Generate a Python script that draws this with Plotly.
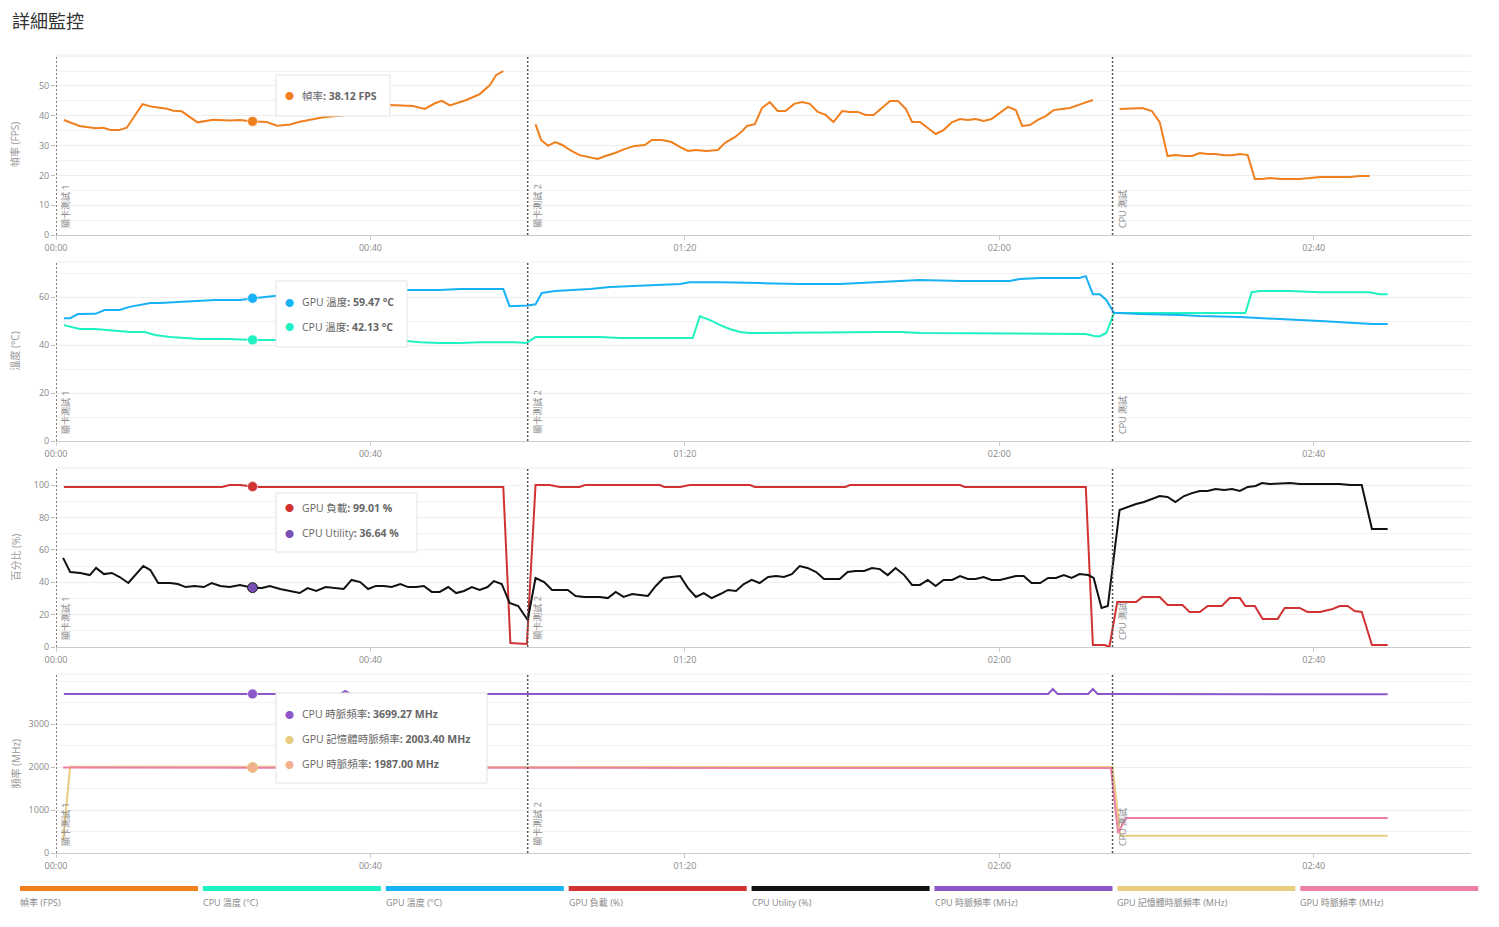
import plotly.graph_objects as go
from plotly.subplots import make_subplots

W, H = 1499, 927
ML, MR = 56, 28


def px_x(px):
    return (px - ML) / (W - ML - MR)


def px_y(py):
    return 1 - py / H


FONT = "Open Sans, Noto Sans CJK TC, sans-serif"

# ---------------- data (time in seconds) ----------------
TICK_SEC = [0, 40, 80, 120, 160]
TICK_LABELS = ["00:00", "00:40", "01:20", "02:00", "02:40"]

SECTION_T = [0, 60, 134.4]
SECTION_LABELS = ["顯卡測試 1", "顯卡測試 2", "CPU 測試"]

HOVER_T = 25

fps_t = [1, 3, 5, 6, 7, 8, 9, 11, 12.3, 14.1, 14.9, 16, 18, 20, 22.1, 23.4, 25, 26.8, 28.1, 29.8, 31, 34, 37,
         39.3, 42.5, 45.4, 46.9, 48.2, 49.1, 50.1, 52.2, 53.9, 55.2, 56, 56.9,
         59,
         61, 61.7, 62.6, 63.5, 64.4, 65.4, 66.6, 67.9, 68.9, 69.9, 71.1, 72.4, 73.6, 74.9, 75.8, 77.1, 78.3, 79.4,
         80.4, 81.4, 82.7, 84.2, 85.1, 86.4, 87.3, 87.9, 88.9, 89.8, 90.8, 91.8, 92.8, 93.9, 94.9, 95.9, 96.9,
         97.9, 98.9, 100, 101, 102, 103, 104, 105.1, 106.1, 107.1, 108.1, 108.9, 109.9, 110.9, 111.9, 112.9, 114,
         115, 116, 117, 118, 119, 120.1, 121.1, 122.1, 122.9, 123.9, 124.9, 125.9, 126.9, 128, 129, 130, 131, 131.9,
         133.5,
         135.3, 136.6, 138.2, 139.4, 140.4, 141.4, 142.4, 143.5, 144.5, 145.5, 146.5, 147.5, 148.6, 149.6, 150.6,
         151.6, 152.5, 153.4, 154.4, 155.7, 157, 158.2, 159.5, 160.8, 162, 163.3, 164.6, 165.8, 167.1]
fps_v = [38.6, 36.6, 35.8, 36.0, 35.2, 35.2, 36.0, 43.9, 43.0, 42.4, 41.7, 41.5, 37.8, 38.7, 38.4, 38.6, 38.12,
         37.9, 36.7, 37.1, 38.0, 39.5, 40.3, 41.5, 43.6, 43.3, 42.3, 44.2, 45.0, 43.5, 45.3, 47.3, 50.3, 53.7, 55.0,
         None,
         37.2, 31.9, 29.9, 31.2, 30.2, 28.5, 26.8, 26.2, 25.5, 26.5, 27.5, 28.9, 29.9, 30.2, 31.9, 31.9, 31.2, 29.5,
         28.2, 28.5, 28.2, 28.5, 30.9, 32.9, 34.9, 36.6, 37.2, 42.6, 44.6, 41.6, 41.6, 44.0, 44.6, 44.0, 41.3,
         40.3, 37.9, 41.6, 41.3, 41.3, 40.3, 40.3, 42.6, 45.0, 45.0, 42.3, 37.9, 37.9, 35.9, 33.9, 35.2, 37.9,
         38.9, 38.6, 38.9, 38.3, 38.9, 40.9, 43.0, 41.9, 36.6, 36.9, 38.6, 39.9, 41.9, 42.3, 42.6, 43.6, 44.6, 45.3,
         None,
         42.3, 42.4, 42.6, 41.6, 37.9, 26.5, 26.8, 26.5, 26.5, 27.5, 27.2, 27.2, 26.8, 26.8, 27.2,
         26.8, 18.8, 18.8, 19.1, 18.8, 18.8, 18.8, 19.1, 19.5, 19.5, 19.5, 19.5, 19.8, 19.8]

gpu_temp_t = [1, 1.8, 2.8, 5, 6.2, 8.1, 9.2, 10.7, 12, 13.2, 15.1, 18.3, 20.2, 23.4, 25, 28, 32, 38, 44.6, 48.8,
              51.4, 56.9, 57.7, 59, 60, 61, 61.8, 63.5, 65.4, 67.9, 70.5, 73, 75.5, 79.4, 80.6, 84.5, 89.5, 94.6,
              99.7, 102.3, 104.8, 107.3, 109.9, 115, 121.3, 122.6, 125.2, 130.2, 131, 131.9, 132.8, 133.6, 134.6,
              135.3, 137.9, 143, 145.5, 150.6, 153.1, 155.7, 158.2, 160.8, 163.3, 165.8, 167.4, 169.4]
gpu_temp_v = [51.2, 51.2, 52.9, 53.0, 54.6, 54.6, 55.8, 56.7, 57.5, 57.5, 57.9, 58.3, 58.8, 58.8, 59.47, 60.5, 61.8,
              62.5, 62.9, 62.9, 63.3, 63.3, 56.2, 56.2, 56.5, 57.0, 61.7, 62.5, 62.9, 63.3, 64.2, 64.6, 65.0, 65.4,
              66.2, 66.2, 65.8, 65.4, 65.4, 65.8, 66.2, 66.7, 67.1, 66.7, 66.7, 67.5, 67.9, 67.9, 68.7, 61.2, 61.2,
              58.8, 53.3, 53.3, 52.9, 52.5, 52.1, 51.7, 51.2, 50.8, 50.4, 50.0, 49.6, 49.2, 48.8, 48.8]

cpu_temp_t = [1, 2, 3, 5, 7, 8, 9.4, 11.3, 12.6, 14.5, 16.4, 18.3, 22.1, 25, 28, 36, 44.6, 46.3, 48.8, 51.4, 53.9,
              56.5, 58.4, 59.7, 60, 61, 64.1, 69.2, 71.7, 81, 81.9, 83.2, 84.5, 85.7, 87, 88.3, 105, 107.5, 110,
              131, 132.2, 132.8, 133.6, 134.6, 135.3, 151.3, 152.1, 153.1, 157, 160.8, 167.1, 168.4, 169.4]
cpu_temp_v = [48.3, 47.5, 46.7, 46.7, 46.2, 45.8, 45.4, 45.4, 44.2, 43.3, 42.9, 42.5, 42.5, 42.13, 42.1, 42.0, 41.7,
              41.2, 40.8, 40.8, 41.2, 41.2, 41.2, 40.8, 41.2, 43.3, 43.3, 43.3, 42.9, 42.9, 52.0, 50.4, 48.3, 46.7,
              45.4, 45.0, 45.4, 45.4, 45.0, 44.6, 43.7, 43.7, 45.0, 53.3, 53.3, 53.3, 62.0, 62.5, 62.5, 62.0, 62.0,
              61.2, 61.2]

gpu_load_t = [1, 21.1, 22.1, 23.4, 25, 26, 56.9, 57.8, 59.9, 61, 62.8, 64.1, 66.6, 67.3, 76.8, 77.4, 79.4, 80.6,
              88.3, 88.9, 100.4, 101, 115, 115.6, 131, 131.9, 133.4, 134, 135, 137.4, 138.2, 140.4, 141.4, 143.3,
              144.2, 145.5, 146.5, 148.3, 149.3, 150.6, 151.3, 152.5, 153.5, 155.4, 156.3, 158.2, 159.2, 160.8,
              162.4, 163.3, 164.3, 165.2, 166.1, 167.4, 169.4]
gpu_load_v = [98.8, 98.8, 100, 100, 99.01, 98.8, 98.8, 2.5, 1.9, 100, 100, 98.8, 98.8, 100, 100, 98.8, 98.8, 100,
              100, 98.8, 98.8, 100, 100, 98.8, 98.8, 1.2, 1.2, 0.0, 27.8, 27.8, 30.9, 30.9, 25.9, 25.9,
              21.6, 21.6, 25.3, 25.3, 30.2, 30.2, 25.3, 25.3, 17.3, 17.3, 24.1, 24.1, 21.6, 21.6,
              23.5, 25.3, 25.3, 22.2, 21.6, 1.2, 1.2]

cpu_util_t = [0.9, 1.8, 3.1, 4.3, 5.1, 6.1, 7.1, 8.1, 9.2, 10, 11.1, 12, 13, 14.5, 15.5, 16.5, 17.6, 18.8, 19.8, 20.9,
              22.1, 23.4, 25, 26.2, 27.2, 28.5, 29.8, 31, 32, 33.1, 34.3, 35.6, 36.6, 37.6, 38.7, 39.7, 40.7, 41.7,
              42.7, 43.8, 44.8, 45.8, 46.8, 47.8, 48.8, 49.9, 50.9, 51.9, 52.9, 53.9, 54.9, 55.7, 56.7, 57.7, 58.8,
              60, 61, 62.1, 63.1, 65.1, 66.1, 67.2, 69.2, 70.2, 71.2, 72.2, 73.3, 74.3, 75.3, 76.3, 77.3, 78.3, 79.4,
              80.4, 81.4, 82.4, 83.4, 84.5, 85.5, 86.5, 87.5, 88.5, 89.5, 90.6, 91.6, 92.6, 93.6, 94.6, 95.6, 96.7,
              97.7, 99.7, 100.7, 101.7, 102.8, 103.8, 104.8, 105.8, 106.8, 107.9, 108.9, 109.9, 110.9, 111.9, 112.9,
              114, 115, 116, 117, 118, 119, 120.1, 121.1, 122.1, 123.1, 124.1, 125.2, 126.2, 127.2, 128.2, 129.2,
              130.2, 131.3, 132, 133, 133.8, 135.3, 136.3, 137.4, 138.4, 139.4, 140.4, 141.4, 142.4, 143.5, 144.5,
              145.5, 146.5, 147.5, 148.6, 149.6, 150.6, 151.6, 152.6, 153.4, 154.4, 157, 158.2, 163.3, 164.6, 166.1,
              167.4, 169.4]
cpu_util_v = [55.0, 46.3, 45.7, 44.4, 48.8, 45.0, 45.7, 43.2, 39.5, 44.0, 50.0, 47.5, 39.5, 39.5, 38.9, 37.0, 37.7,
              37.0, 39.5, 37.7, 37.0, 38.3, 36.64, 36.4, 37.7, 35.8, 34.6, 33.3, 36.4, 34.6, 37.0, 36.4, 35.8, 41.4,
              40.1, 35.8, 37.7, 37.7, 37.0, 38.9, 37.0, 37.0, 37.7, 34.0, 34.0, 37.0, 33.3, 34.6, 37.0, 35.2, 37.0,
              40.7, 38.9, 27.2, 25.3, 16.7, 42.6, 40.1, 35.2, 35.2, 31.5, 30.9, 30.9, 30.2, 34.0, 30.9, 32.7, 32.1,
              31.5, 37.7, 42.6, 43.2, 43.8, 36.4, 30.9, 33.3, 30.2, 32.7, 35.2, 34.6, 38.9, 41.4, 39.5, 43.2, 43.8,
              43.2, 45.0, 50.0, 48.8, 46.3, 42.0, 42.0, 46.3, 46.9, 46.9, 48.8, 48.1, 44.4, 48.8, 44.4, 38.3, 38.3,
              41.4, 37.7, 41.4, 41.4, 43.8, 42.0, 42.0, 43.2, 41.4, 41.4, 42.6, 43.8, 43.8, 39.5, 39.5, 42.6, 42.6,
              44.4, 42.6, 45.0, 44.4, 42.6, 24.1, 25.3, 84.6, 86.4, 88.3, 89.5, 91.4, 93.2, 92.6, 89.5, 93.2, 95.0,
              96.3, 96.3, 97.5, 96.9, 97.5, 96.3, 98.8, 99.4, 101.2, 100.6, 101.2, 100.6, 100.6, 100.0, 100.0,
              72.8, 72.8]

cpu_clk_t = [1, 25, 36.2, 36.8, 37.4, 126.2, 126.8, 127.4, 131.3, 131.9, 132.5, 134.4, 169.4]
cpu_clk_v = [3700, 3699.27, 3700, 3767, 3700, 3700, 3814, 3700, 3700, 3814, 3700, 3695, 3690]

gpu_mem_t = [0.9, 1.8, 25, 134.4, 135.4, 169.4]
gpu_mem_v = [300, 2003.4, 2003.4, 2000, 400, 400]

gpu_clk_t = [0.9, 25, 60, 134.2, 135.1, 136.1, 169.4]
gpu_clk_v = [1987, 1987.0, 1985, 1975, 465, 814, 814]

SERIES = [
    # name, tooltip name, unit, color, t, v, row
    ("幀率 (FPS)", "幀率", "FPS", "#f07f1e", fps_t, fps_v, 1),
    ("CPU 溫度 (°C)", "CPU 溫度", "°C", "#1ff2c2", cpu_temp_t, cpu_temp_v, 2),
    ("GPU 溫度 (°C)", "GPU 溫度", "°C", "#17b1f5", gpu_temp_t, gpu_temp_v, 2),
    ("GPU 負載 (%)", "GPU 負載", "%", "#d13232", gpu_load_t, gpu_load_v, 3),
    ("CPU Utility (%)", "CPU Utility", "%", "#111111", cpu_util_t, cpu_util_v, 3),
    ("CPU 時脈頻率 (MHz)", "CPU 時脈頻率", "MHz", "#8e57c9", cpu_clk_t, cpu_clk_v, 4),
    ("GPU 記憶體時脈頻率 (MHz)", "GPU 記憶體時脈頻率", "MHz", "#e8cd80", gpu_mem_t, gpu_mem_v, 4),
    ("GPU 時脈頻率 (MHz)", "GPU 時脈頻率", "MHz", "#ee80a8", gpu_clk_t, gpu_clk_v, 4),
]

Y_TITLES = ["幀率 (FPS)", "溫度 (°C)", "百分比 (%)", "頻率 (MHz)"]
Y_RANGES = [[0, 60.4], [0, 74.6], [0, 110.5], [0, 4163]]
Y_TICKS = [[0, 10, 20, 30, 40, 50], [0, 20, 40, 60], [0, 20, 40, 60, 80, 100], [0, 1000, 2000, 3000]]
Y_MINOR = [5, 10, 10, 500]

# panel pixel extents (top, bottom)
PANELS = [(55, 235), (262, 441), (468, 647), (674, 853)]

# tooltip boxes: (left, top, right, bottom) px, first-line y, series order in tooltip
TOOLTIPS = [
    ((276, 75, 390, 116), 96, [0]),
    ((276, 281, 407, 347), 302, [2, 1]),
    ((276, 493, 417, 552), 508, [3, 4]),
    ((276, 693, 487, 783), 714, [5, 6, 7]),
]
HOVER_MARKER = {4: "#7a4fb5", 7: "#f2b08e"}
HOVER_EDGE = {4: "#222222", 7: "#e8cd80"}

fig = make_subplots(rows=4, cols=1)

for i, (name, tname, unit, color, t, v, row) in enumerate(SERIES):
    fig.add_trace(go.Scatter(x=t, y=v, mode="lines", name=name, line=dict(color=color, width=2),
                             connectgaps=False, showlegend=False), row=row, col=1)

# hover markers
for i, (name, tname, unit, color, t, v, row) in enumerate(SERIES):
    val = v[t.index(HOVER_T)]
    mc = HOVER_MARKER.get(i, color)
    fig.add_trace(go.Scatter(x=[HOVER_T], y=[val], mode="markers",
                             marker=dict(size=10, color=mc,
                                         line=dict(color=HOVER_EDGE.get(i, "rgba(255,255,255,0.6)"), width=1)),
                             showlegend=False, hoverinfo="skip"), row=row, col=1)

shapes = []
annotations = []

for r in range(4):
    top, bot = PANELS[r]
    ax = "" if r == 0 else str(r + 1)
    fig.update_layout(**{
        f"xaxis{ax}": dict(domain=[0, 1], range=[0, 180], tickvals=TICK_SEC, ticktext=TICK_LABELS,
                           showgrid=False, zeroline=False, showline=True, linecolor="#cccccc", linewidth=1,
                           ticks="outside", ticklen=4, tickcolor="#cccccc",
                           tickfont=dict(size=9, color="#888888", family=FONT)),
        f"yaxis{ax}": dict(domain=[px_y(bot), px_y(top)], range=Y_RANGES[r], tickvals=Y_TICKS[r],
                           showgrid=True, gridcolor="#eeeeee", gridwidth=1, zeroline=False, showline=False,
                           ticks="outside", ticklen=4, tickcolor="#bbbbbb",
                           tickfont=dict(size=9, color="#888888", family=FONT),
                           minor=dict(dtick=Y_MINOR[r], tick0=0, showgrid=True, gridcolor="#f2f2f2", ticks=""),
                           automargin=False),
    })
    # top border line
    shapes.append(dict(type="line", xref=f"x{ax} domain", yref=f"y{ax} domain", x0=0, x1=1, y0=1, y1=1,
                       line=dict(color="#eeeeee", width=1)))
    # section lines and labels
    for st, sl in zip(SECTION_T, SECTION_LABELS):
        shapes.append(dict(type="line", xref=f"x{ax}", yref=f"y{ax} domain", x0=st, x1=st, y0=0, y1=1,
                           line=dict(color="#555555", width=1.5, dash="2px,2px")))
        annotations.append(dict(text=sl, xref=f"x{ax}", yref=f"y{ax} domain", x=st, y=0, xanchor="left",
                                yanchor="bottom", xshift=1, yshift=5, textangle=-90, showarrow=False,
                                font=dict(size=9, color="#888888", family=FONT)))
    # y title
    annotations.append(dict(text=Y_TITLES[r], xref="paper", yref="paper", x=px_x(15),
                            y=px_y((top + bot) / 2), xanchor="center", yanchor="middle", textangle=-90,
                            showarrow=False, font=dict(size=10, color="#999999", family=FONT)))

# tooltips
for (l, tp, rr, bt), y0, idxs in TOOLTIPS:
    shapes.append(dict(type="rect", xref="paper", yref="paper", x0=px_x(l), x1=px_x(rr), y0=px_y(bt),
                       y1=px_y(tp), fillcolor="white", line=dict(color="#e3e3e3", width=1), layer="above"))
    for k, si in enumerate(idxs):
        name, tname, unit, color, t, v, row = SERIES[si]
        val = v[t.index(HOVER_T)]
        yy = px_y(y0 + 25 * k)
        dot = HOVER_MARKER.get(si, color)
        annotations.append(dict(text="●", xref="paper", yref="paper", x=px_x(289), y=yy, xanchor="center",
                                yanchor="middle", showarrow=False, font=dict(size=9, color=dot)))
        annotations.append(dict(text=f"{tname}<b>: {val:.2f} {unit}</b>", xref="paper", yref="paper",
                                x=px_x(300), y=yy, xanchor="left", yanchor="middle", showarrow=False,
                                font=dict(size=10.5, color="#666666", family=FONT)))

# bottom legend
for i, (name, tname, unit, color, t, v, row) in enumerate(SERIES):
    x0 = 20 + i * 182.9
    shapes.append(dict(type="rect", xref="paper", yref="paper", x0=px_x(x0), x1=px_x(x0 + 178),
                       y0=px_y(891), y1=px_y(886), fillcolor=color, line=dict(width=0)))
    annotations.append(dict(text=name, xref="paper", yref="paper", x=px_x(x0 - 2), y=px_y(902),
                            xanchor="left", yanchor="middle", showarrow=False,
                            font=dict(size=9, color="#888888", family=FONT)))

# title
annotations.append(dict(text="詳細監控", xref="paper", yref="paper", x=px_x(10), y=px_y(20), xanchor="left",
                        yanchor="middle", showarrow=False,
                        font=dict(size=18, color="#333333", family="Noto Sans CJK TC")))

fig.update_layout(width=W, height=H, margin=dict(l=ML, r=MR, t=0, b=0), paper_bgcolor="white",
                  plot_bgcolor="white", shapes=shapes, annotations=annotations, showlegend=False,
                  font=dict(family=FONT))

fig.write_html("out.html")
